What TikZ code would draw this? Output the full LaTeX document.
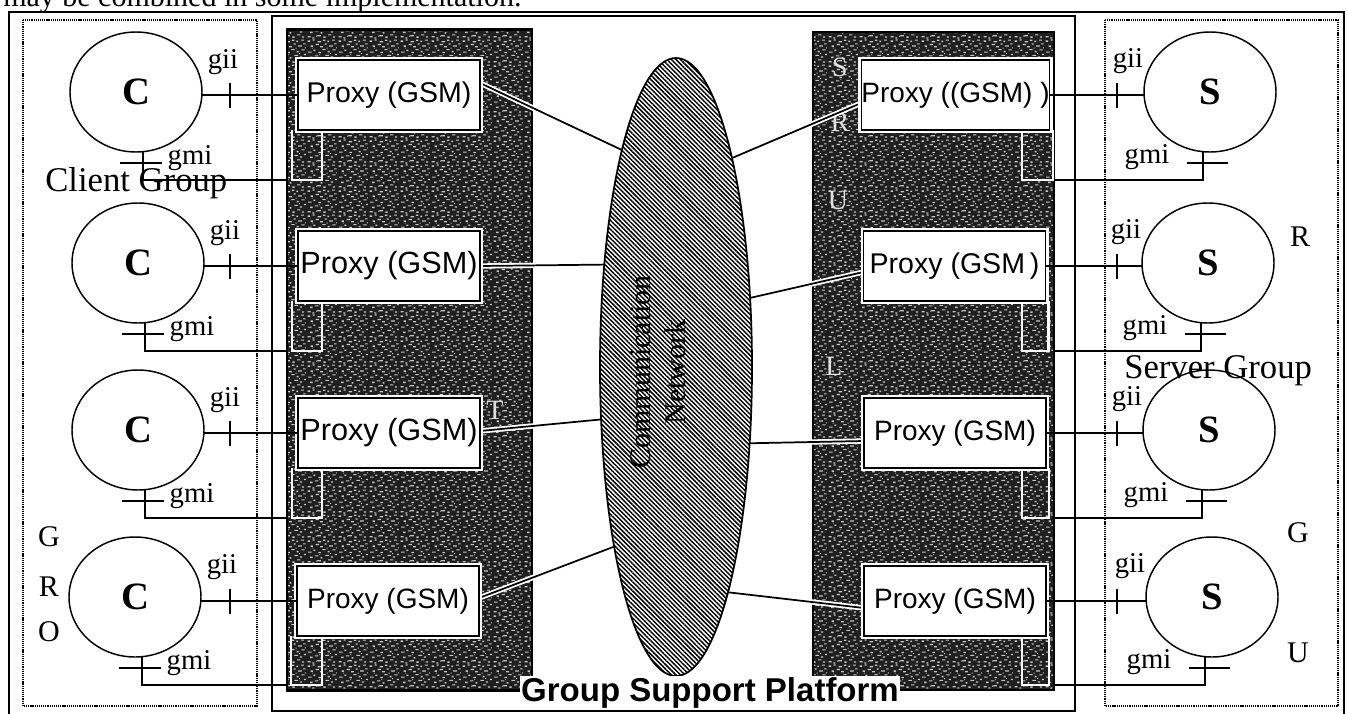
\documentclass[tikz,border=0pt]{standalone}
\usepackage{fontspec}
\setmainfont{Liberation Serif}
\setsansfont{Liberation Sans}
\usetikzlibrary{shapes.geometric,patterns,patterns.meta,calc}

% light flecks used on the dark platform panels
\newcommand\spk[4]{\pgfpathrectangle{\pgfqpoint{#1pt}{#2pt}}{\pgfqpoint{#3pt}{#4pt}}}
\pgfdeclarepatternformonly{speckle}{\pgfqpoint{0pt}{0pt}}{\pgfqpoint{23pt}{19pt}}{\pgfqpoint{23pt}{19pt}}{%
  \spk{0.5}{1.2}{2.2}{1.0}\spk{4.1}{0.3}{1.5}{0.9}\spk{7.8}{2.0}{2.6}{0.9}\spk{12.3}{0.9}{1.8}{1.1}
  \spk{16.0}{2.7}{2.4}{0.9}\spk{19.6}{1.1}{1.6}{1.0}\spk{2.3}{4.6}{1.9}{1.0}\spk{6.0}{5.8}{2.5}{0.9}
  \spk{10.2}{4.1}{1.4}{1.1}\spk{13.9}{6.2}{2.8}{0.9}\spk{18.1}{4.9}{1.7}{1.0}\spk{21.0}{6.8}{1.5}{0.9}
  \spk{0.9}{8.7}{2.6}{0.9}\spk{4.8}{10.1}{1.6}{1.0}\spk{8.5}{8.3}{2.0}{1.1}\spk{11.7}{10.6}{2.3}{0.9}
  \spk{15.6}{9.0}{1.5}{1.0}\spk{19.2}{10.4}{2.4}{0.9}\spk{2.8}{13.2}{1.7}{1.1}\spk{6.6}{14.5}{2.4}{0.9}
  \spk{10.0}{12.8}{1.9}{1.0}\spk{13.4}{14.9}{1.4}{0.9}\spk{16.8}{13.3}{2.7}{1.0}\spk{20.5}{15.0}{1.8}{0.9}
  \spk{0.4}{17.1}{2.0}{1.0}\spk{4.2}{18.0}{1.6}{0.9}\spk{8.1}{16.6}{2.5}{1.0}\spk{12.0}{17.8}{1.8}{0.9}
  \spk{15.3}{16.9}{1.5}{1.1}\spk{18.7}{17.9}{2.3}{0.9}\spk{9.3}{6.9}{0.7}{0.7}\spk{14.8}{11.9}{0.8}{0.6}
  \spk{3.6}{11.8}{0.7}{0.7}\spk{21.8}{12.0}{0.7}{0.7}\spk{17.5}{7.6}{0.7}{0.7}\spk{6.9}{1.9}{0.7}{0.6}
  \pgfusepath{fill}}

\pgfdeclarelayer{bg}
\pgfdeclarelayer{mid}
\pgfsetlayers{bg,mid,main}

\begin{document}
\begin{tikzpicture}[x=0.75pt,y=-0.75pt,line join=miter,
  frame/.style={draw,line width=2.2pt},
  platform/.style={draw,line width=1.1pt},
  groupbox/.style={draw,line width=1.5pt,dash pattern=on 0.9pt off 0.7pt},
  panel/.style={draw,line width=2.2pt,preaction={fill=black!88},pattern=speckle,
    pattern color=black!22,inner sep=0,outer sep=0},
  proxybox/.style={draw,line width=1.3pt,fill=white,minimum width=136.5pt,
    minimum height=53pt,inner sep=0,outer sep=0,preaction={draw=white,line width=4.5pt}},
  member/.style={ellipse,draw,line width=1.1pt,minimum width=99pt,minimum height=90pt,
    inner sep=0,outer sep=0,font=\bfseries\fontsize{29}{32}\selectfont},
  tag/.style={inner sep=0,font=\fontsize{21.5}{23}\selectfont},
  grouptitle/.style={inner sep=0,anchor=base west,font=\fontsize{26}{28}\selectfont},
  vlet/.style={inner sep=0,font=\fontsize{22.5}{24}\selectfont},
  plet/.style={inner sep=0,text=black!12,font=\fontsize{21}{22}\selectfont},
  conn/.style={line width=1.1pt},
  link/.style={line width=1.3pt,preaction={draw=white,line width=4pt}},
  inner/.style={draw=white,line width=1.6pt},
  sfA/.style={font=\sffamily\fontsize{21.4}{24}\selectfont},
  sfB/.style={font=\sffamily\fontsize{23}{25}\selectfont},
  sfC/.style={font=\sffamily\fontsize{21}{24}\selectfont}]

\useasboundingbox (0,0) rectangle (1347,714);

% running text of the page, cut by the top edge
\node[anchor=base west,inner sep=0,font=\fontsize{22.5}{25}\selectfont] (pagetext) at (3,6)
  {may be combined in some implementation.};

% frames
\draw[frame] (9,12) rectangle (1344,740);
\draw[platform] (272,16) rectangle (1075,711);
\draw[groupbox] (23,20) rectangle (257,706);
\draw[groupbox] (1105,20) rectangle (1338,706);

% dark panels holding the proxies
\begin{pgfonlayer}{bg}
  \node[panel,minimum width=183.75pt,minimum height=495.75pt] (LP) at (409.5,360) {};
  \node[panel,minimum width=180.75pt,minimum height=493.5pt] (RP) at (933.5,361) {};
  \node[plet] (lt) at (495,410) {T};
  \node[plet] (rs) at (840,67) {S};
  \node[plet] (rr) at (840,122) {R};
  \node[plet] (ru) at (838,200) {U};
  \node[plet] (rl) at (834,366) {L};
\end{pgfonlayer}

% proxies
\node[proxybox,sfA] (L1) at (389,95) {Proxy (GSM)};
\node[proxybox,sfB] (L2) at (389,266) {Proxy (GSM)};
\node[proxybox,sfB] (L3) at (389,433) {Proxy (GSM)};
\node[proxybox,sfC] (L4) at (388,601) {Proxy (GSM)};
\node[proxybox,sfC] (R1) at (955.5,95) {Proxy ((GSM) )};
\node[proxybox,sfA] (R2) at (954.5,266) {Proxy (GSM\,)};
\node[proxybox,sfC] (R3) at (955,433) {Proxy (GSM)};
\node[proxybox,sfC] (R4) at (955,601) {Proxy (GSM)};

% communication network
\node[ellipse,draw,line width=1.3pt,minimum width=114pt,minimum height=463.5pt,
  inner sep=0,outer sep=0,pattern={Lines[angle=-45,distance=2.4pt,line width=1.1pt]}]
  (net) at (676,367) {};
\node[rotate=90,align=center,inner sep=0,font=\fontsize{22.5}{26.25}\selectfont]
  (nettext) at (658,372) {Communication\\Network};

% clients and servers
\node[member] (c1) at (136,92) {C};
\node[member] (c2) at (138,263) {C};
\node[member] (c3) at (138,430) {C};
\node[member] (c4) at (135,597) {C};
\node[member] (s1) at (1210,92) {S};
\node[member] (s2) at (1208,263) {S};
\node[member] (s3) at (1209,430) {S};
\node[member] (s4) at (1212,597) {S};

% group titles and spelled-out letters
\node[grouptitle] (cg) at (45,191) {Client Group};
\node[grouptitle] (sg) at (1124,378) {Server Group};
\node[vlet] (lg) at (49,537) {G};
\node[vlet] (lr) at (49,587) {R};
\node[vlet] (lo) at (49,632) {O};
\node[vlet] (sr) at (1300,237) {R};
\node[vlet] (sgg) at (1298,533) {G};
\node[vlet] (su) at (1298,653) {U};

% interfaces gii / gmi
\foreach \i in {1,...,4}{
  \coordinate (ta\i) at (230,0 |- L\i.west);
  \coordinate (tb\i) at (1117,0 |- R\i.east);
  \draw[conn] (c\i.east |- L\i.west) -- (L\i.west);
  \draw[conn] (R\i.east) -- (R\i.east -| s\i.west);
  \draw[conn] ($(ta\i)+(0,-12)$) -- ($(ta\i)+(0,13)$);
  \draw[conn] ($(tb\i)+(0,-12)$) -- ($(tb\i)+(0,13)$);
  \node[tag] (gia\i) at ($(c\i.center)+(87,-30)$) {gii};
  \node[tag] (gib\i) at ($(s\i.center)+(-82,-31)$) {gii};
  \coordinate (ga\i) at ($(c\i.south)+(7,0)$);
  \coordinate (gb\i) at ($(LP.west |- c\i.south)+(0,28)$);
  \coordinate (gc\i) at ($(gb\i)+(35,0)$);
  \draw[conn] (ga\i) |- (gb\i);
  \draw[conn] ($(ga\i)+(-23,11)$) -- ($(ga\i)+(19,11)$);
  \node[tag] (gma\i) at ($(c\i.center)+(54,66)$) {gmi};
  \coordinate (ha\i) at ($(s\i.south)+(-7,0)$);
  \coordinate (hb\i) at ($(RP.east |- s\i.south)+(0,28)$);
  \coordinate (hc\i) at ($(hb\i)+(-32,0)$);
  \draw[conn] (ha\i) |- (hb\i);
  \draw[conn] ($(ha\i)+(-16,11)$) -- ($(ha\i)+(25,11)$);
  \node[tag] (gmb\i) at ($(s\i.center)+(-63,65)$) {gmi};
  \begin{pgfonlayer}{mid}
    \draw[inner] ($(L\i.south west)+(-6,0)$) |- (gc\i) -- (gc\i |- L\i.south);
    \draw[inner] ($(R\i.south east)+(3,0)$) |- (hc\i) -- (hc\i |- R\i.south);
  \end{pgfonlayer}
}

% proxies attached to the network
\begin{pgfonlayer}{mid}
  \draw[link] ($(L1.east)+(0,-12)$) -- (net.104.9);
  \draw[link] (L2.east) -- (net.125.4);
  \draw[link] ($(L3.east)+(0,-2)$) -- (net.215.2);
  \draw[link] ($(L4.east)+(0,-3)$) -- (net.251.5);
  \draw[link] (net.75.5) -- ($(R1.west)+(0,8)$);
  \draw[link] (net.43) -- ($(R2.west)+(0,6)$);
  \draw[link] (net.314.9) -- ($(R3.west)+(0,8)$);
  \draw[link] (net.283.9) -- ($(R4.west)+(0,7)$);
\end{pgfonlayer}

\node[fill=white,inner sep=1pt,anchor=base,
  font=\sffamily\bfseries\fontsize{24.75}{26}\selectfont] (gsp) at (710,701)
  {Group Support Platform};
\end{tikzpicture}
\end{document}
